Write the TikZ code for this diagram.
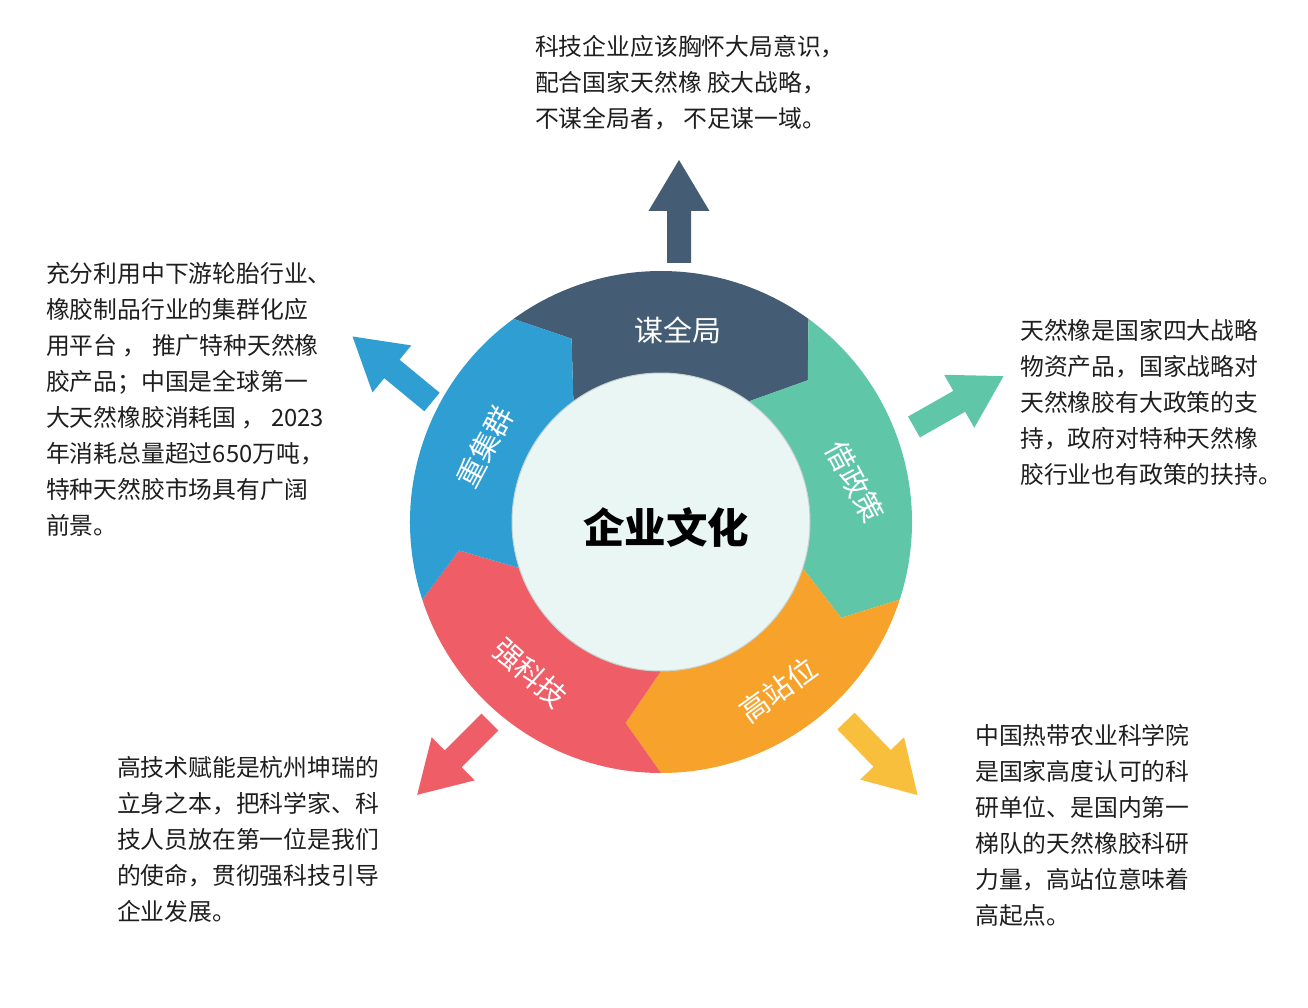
\documentclass[tikz,border=0pt]{standalone}
\usepackage{fontspec}
\setmainfont{Noto Sans CJK SC}
\usepackage{xcolor}
\definecolor{slate}{RGB}{68,93,117}
\definecolor{segblue}{RGB}{46,158,211}
\definecolor{seggreen}{RGB}{95,198,168}
\definecolor{segorange}{RGB}{247,162,43}
\definecolor{segred}{RGB}{239,93,103}
\definecolor{arrowyellow}{RGB}{247,191,60}
\definecolor{coremint}{RGB}{234,246,243}
\definecolor{inkgray}{RGB}{30,30,30}
\tikzset{
	seglabel/.style={text=white, inner sep=0pt, font=\fontsize{29}{29}\selectfont},
	infotext/.style={anchor=north west, align=left, inner sep=0pt, text=inkgray,
		font=\fontsize{23.8}{36}\selectfont},
	corecircle/.style={circle, fill=coremint, draw=coremint!85!black, line width=1pt,
		minimum size=298pt, inner sep=0pt}
}

\begin{document}
\begin{tikzpicture}[x=1pt, y=1pt]
	\useasboundingbox (-661,-485) rectangle (647,522);
	
	%% -- Ring segments (each one points clockwise into the next)
	\fill[slate] (126:251) arc[start angle=126, end angle=54, radius=251]
	-- (44:204) -- (54:149) arc[start angle=54, end angle=126, radius=149]
	-- (116:204) -- cycle;
	
	\fill[seggreen] (54:251) arc[start angle=54, end angle=-18, radius=251]
	-- (-28:204) -- (-18:149) arc[start angle=-18, end angle=54, radius=149]
	-- (44:204) -- cycle;
	
	\fill[segorange] (-18:251) arc[start angle=-18, end angle=-90, radius=251]
	-- (-100:204) -- (-90:149) arc[start angle=-90, end angle=-18, radius=149]
	-- (-28:204) -- cycle;
	
	\fill[segred] (-90:251) arc[start angle=-90, end angle=-162, radius=251]
	-- (-172:204) -- (-162:149) arc[start angle=-162, end angle=-90, radius=149]
	-- (-100:204) -- cycle;
	
	\fill[segblue] (198:251) arc[start angle=198, end angle=126, radius=251]
	-- (116:204) -- (126:149) arc[start angle=126, end angle=198, radius=149]
	-- (188:204) -- cycle;
	
	%% -- Centre disc
	\node[corecircle] (core) at (0,0) {};
	\node[font=\fontsize{41.5}{41.5}\selectfont\bfseries, text=black] (title) at (5,-5) {企业文化};
	
	%% -- Segment labels
	\node[seglabel] (lbltop) at (17,192) {谋全局};
	\node[seglabel, rotate=62] (lblblue) at (-176,75) {重集群};
	\node[seglabel, rotate=-62] (lblgreen) at (194,40) {借政策};
	\node[seglabel, rotate=-42] (lblred) at (-131,-151) {强科技};
	\node[seglabel, rotate=36] (lblorange) at (117,-168) {高站位};
	
	%% -- Outward arrows
	\fill[slate, shift={(18,259)}, rotate=90]
	(0,-12) -- (52,-12) -- (52,-30.5) -- (103,0) -- (52,30.5) -- (52,12) -- (0,12) -- cycle;
	\fill[segblue, shift={(-229,120)}, rotate=140.5]
	(0,-12) -- (52,-12) -- (52,-30.5) -- (103,0) -- (52,30.5) -- (52,12) -- (0,12) -- cycle;
	\fill[seggreen, shift={(253,95)}, rotate=29.6]
	(0,-12) -- (52,-12) -- (52,-30.5) -- (103,0) -- (52,30.5) -- (52,12) -- (0,12) -- cycle;
	\fill[segred, shift={(-171,-200)}, rotate=225]
	(0,-12) -- (52,-12) -- (52,-30.5) -- (103,0) -- (52,30.5) -- (52,12) -- (0,12) -- cycle;
	\fill[arrowyellow, shift={(185,-199)}, rotate=-46]
	(0,-12) -- (52,-12) -- (52,-30.5) -- (103,0) -- (52,30.5) -- (52,12) -- (0,12) -- cycle;
	
	%% -- Notes around the ring
	\node[infotext] (topnote) at (-126,487)
	{科技企业应该胸怀大局意识，\\配合国家天然橡 胶大战略，\\不谋全局者， 不足谋一域。};
	
	\node[infotext] (leftnote) at (-615,260)
	{充分利用中下游轮胎行业、\\橡胶制品行业的集群化应\\用平台 ， 推广特种天然橡\\胶产品；中国是全球第一\\大天然橡胶消耗国 ， 2023\\年消耗总量超过650万吨，\\特种天然胶市场具有广阔\\前景。};
	
	\node[infotext] (rightnote) at (359,203)
	{天然橡是国家四大战略\\物资产品，国家战略对\\天然橡胶有大政策的支\\持，政府对特种天然橡\\胶行业也有政策的扶持。};
	
	\node[infotext] (lowleftnote) at (-544,-234)
	{高技术赋能是杭州坤瑞的\\立身之本，把科学家、科\\技人员放在第一位是我们\\的使命，贯彻强科技引导\\企业发展。};
	
	\node[infotext] (lowrightnote) at (314,-202)
	{中国热带农业科学院\\是国家高度认可的科\\研单位、是国内第一\\梯队的天然橡胶科研\\力量，高站位意味着\\高起点。};
	
\end{tikzpicture}
\end{document}
